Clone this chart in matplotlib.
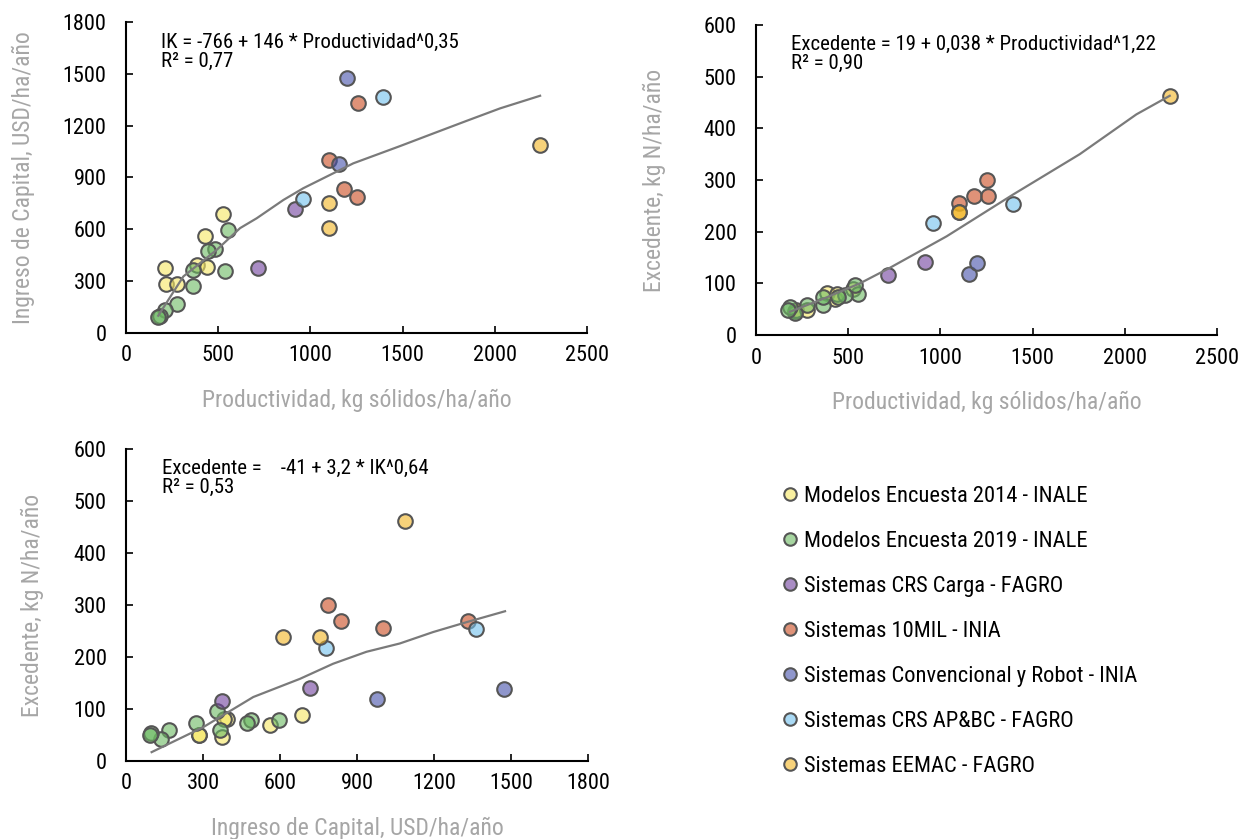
import matplotlib
matplotlib.use("Agg")
import matplotlib.pyplot as plt
from matplotlib.colors import to_rgba
from matplotlib.lines import Line2D

plt.rcParams['font.family'] = ['Roboto Condensed', 'Archivo Narrow', 'Liberation Sans', 'DejaVu Sans']

# groups (legend order) and their colours
groups = ['Modelos Encuesta 2014 - INALE', 'Modelos Encuesta 2019 - INALE',
          'Sistemas CRS Carga - FAGRO', 'Sistemas 10MIL - INIA',
          'Sistemas Convencional y Robot - INIA', 'Sistemas CRS AP&BC - FAGRO',
          'Sistemas EEMAC - FAGRO']
colors = ['#F5E661', '#6BB961', '#703F9E', '#CB4A1E', '#4450AA', '#71C1EE', '#F3B421']

# values per system, one inner list per group
productividad = [[528, 429, 383, 441, 212, 217, 278],
                 [552, 483, 447, 365, 537, 365, 275, 212, 184, 175],
                 [919, 716],
                 [1255, 1183, 1099, 1260],
                 [1154, 1201],
                 [958, 1396],
                 [2246, 1099, 1103]]
ingreso_capital = [[687, 562, 395, 381, 374, 283, 283],
                   [597, 487, 472, 366, 356, 273, 168, 135, 96, 92],
                   [718, 374],
                   [788, 836, 1001, 1333],
                   [978, 1473],
                   [778, 1365],
                   [1086, 610, 755]]
excedente = [[89, 69, 81, 80, 46, 49, 49],
             [79, 78, 73, 59, 97, 73, 59, 42, 54, 49],
             [141, 116],
             [300, 270, 255, 269],
             [119, 139],
             [217, 253],
             [462, 238, 238]]

# fitted curves as drawn in the chart
fit1_x = [175, 311, 492, 619, 709, 854, 962, 1233, 1487, 1667, 1848, 2029, 2246]
fit1_y = [100, 327, 481, 607, 664, 770, 838, 982, 1082, 1155, 1228, 1300, 1373]
fit2_x = [184, 364, 564, 726, 1034, 1395, 1756, 2063, 2244]
fit2_y = [45, 70, 100, 130, 191, 272, 350, 427, 463]
fit3_x = [100, 301, 496, 678, 807, 937, 1067, 1197, 1327, 1477]
fit3_y = [17, 65, 123, 158, 187, 210, 226, 248, 267, 288]

LABEL_GRAY = '#A6A6A6'
EDGE = '#555555'
ALPHA = 0.6

fig = plt.figure(figsize=(12.52, 8.39), dpi=100)
ax1 = fig.add_axes([0.1006, 0.6031, 0.3682, 0.3707])
ax2 = fig.add_axes([0.6038, 0.6007, 0.3682, 0.3695])
ax3 = fig.add_axes([0.1006, 0.0930, 0.3690, 0.3718])


def scatter_groups(ax, xs, ys):
    for x, y, c in zip(xs, ys, colors):
        ax.scatter(x, y, s=110, facecolor=to_rgba(c, ALPHA), edgecolor=EDGE,
                   linewidth=1.5, zorder=2)


def style(ax, xmax, xstep, ymax, ystep, xlabel, ylabel, ylabelpad):
    ax.set_xlim(0, xmax)
    ax.set_ylim(0, ymax)
    ax.set_xticks(range(0, xmax + 1, xstep))
    ax.set_yticks(range(0, ymax + 1, ystep))
    for s in ['top', 'right']:
        ax.spines[s].set_visible(False)
    for s in ['left', 'bottom']:
        ax.spines[s].set_linewidth(1.5)
    ax.tick_params(direction='in', length=5, width=1.2, labelsize=16)
    ax.tick_params(axis='x', pad=9)
    ax.tick_params(axis='y', pad=14)
    ax.set_xlabel(xlabel, color=LABEL_GRAY, fontsize=17, labelpad=16)
    ax.set_ylabel(ylabel, color=LABEL_GRAY, fontsize=17, labelpad=ylabelpad)


scatter_groups(ax1, productividad, ingreso_capital)
ax1.plot(fit1_x, fit1_y, color='#7A7A7A', lw=1.6, zorder=3)
style(ax1, 2500, 500, 1800, 300, 'Productividad, kg sólidos/ha/año',
      'Ingreso de Capital, USD/ha/año', 20)
ax1.text(0.077, 0.965, 'IK = -766 + 146 * Productividad^0,35\nR² = 0,77',
         transform=ax1.transAxes, fontsize=15, va='top', linespacing=1.0)

scatter_groups(ax2, productividad, excedente)
ax2.plot(fit2_x, fit2_y, color='#7A7A7A', lw=1.6, zorder=3)
style(ax2, 2500, 500, 600, 100, 'Productividad, kg sólidos/ha/año',
      'Excedente, kg N/ha/año', 27)
ax2.text(0.077, 0.968, 'Excedente = 19 + 0,038 * Productividad^1,22\nR² = 0,90',
         transform=ax2.transAxes, fontsize=15, va='top', linespacing=1.0)

scatter_groups(ax3, ingreso_capital, excedente)
ax3.plot(fit3_x, fit3_y, color='#7A7A7A', lw=1.6, zorder=3)
style(ax3, 1800, 300, 600, 100, 'Ingreso de Capital, USD/ha/año',
      'Excedente, kg N/ha/año', 21)
ax3.text(0.079, 0.968, 'Excedente =    -41 + 3,2 * IK^0,64\nR² = 0,53',
         transform=ax3.transAxes, fontsize=15, va='top', linespacing=1.0)

handles = [Line2D([], [], marker='o', linestyle='none', markersize=9,
                  markerfacecolor=to_rgba(c, ALPHA), markeredgecolor=EDGE,
                  markeredgewidth=1.5) for c in colors]
fig.legend(handles, groups, loc='upper left', bbox_to_anchor=(0.6164, 0.432),
           frameon=False, fontsize=16.2, labelspacing=1.07, handlelength=0.8,
           handletextpad=0.25, borderaxespad=0)

fig.savefig('out.png', dpi=100)
